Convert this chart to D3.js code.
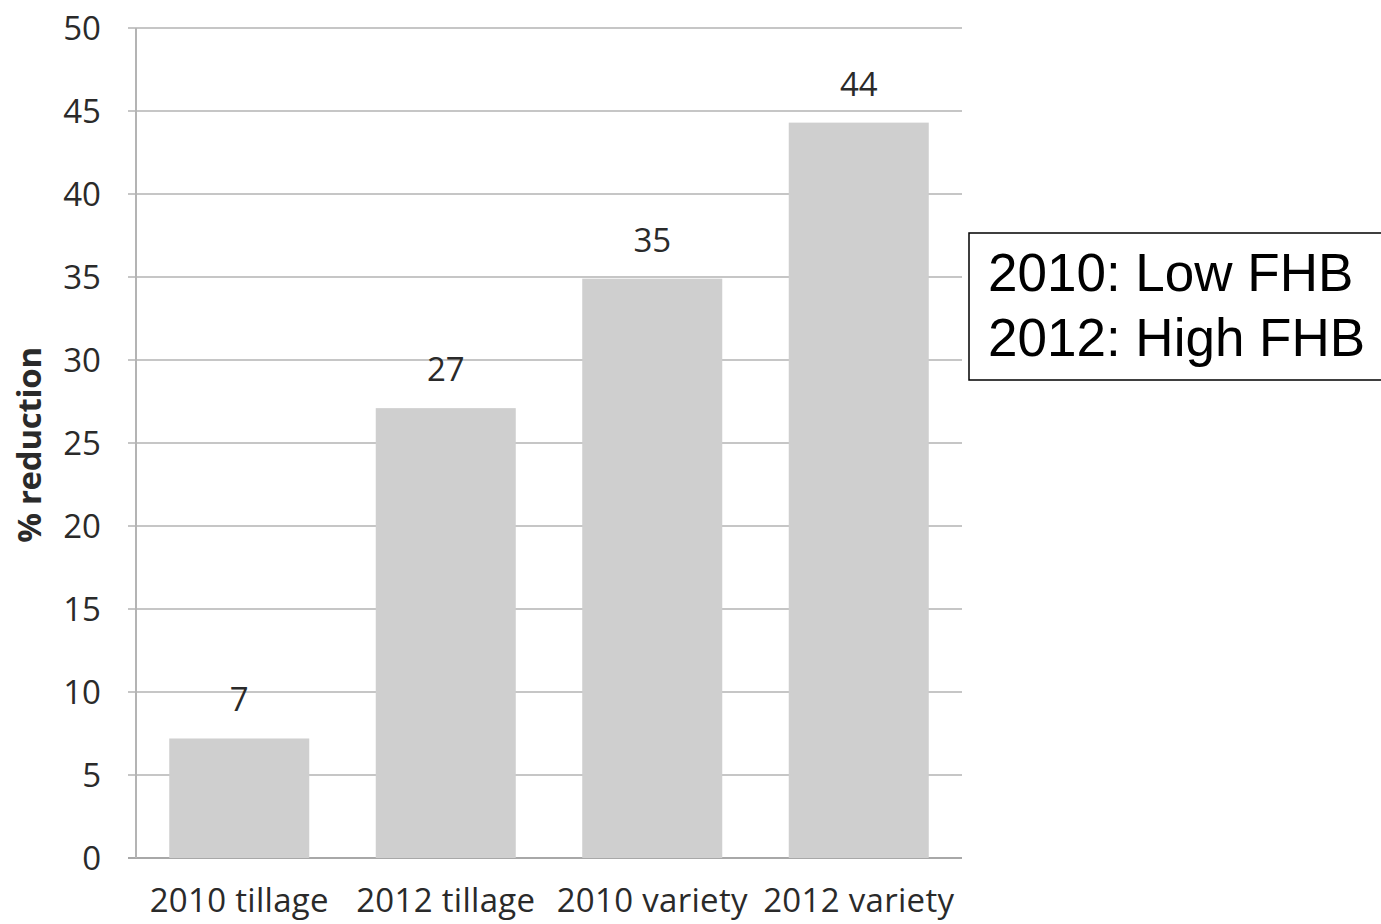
<!DOCTYPE html>
<html>
<head>
<meta charset="utf-8">
<script src="https://cdn.jsdelivr.net/npm/d3@7"></script>
<style>
  html, body { margin: 0; padding: 0; background: #ffffff; }
  svg { display: block; }
</style>
</head>
<body>
<script>
const categories = ["2010 tillage", "2012 tillage", "2010 variety", "2012 variety"];
const values = [7.2, 27.1, 34.9, 44.3];
const valueLabels = ["7", "27", "35", "44"];
const yTicks = [0, 5, 10, 15, 20, 25, 30, 35, 40, 45, 50];
const yTitle = "% reduction";
const noteLines = ["2010: Low FHB", "2012: High FHB"];

const W = 1381, H = 924;
const plotLeft = 136, plotRight = 962, plotTop = 28, plotBottom = 858;

const svg = d3.select("body").append("svg").attr("width", W).attr("height", H);

const x = d3.scaleBand().domain(categories).range([plotLeft, plotRight]).paddingInner(0.322).paddingOuter(0.161);
const y = d3.scaleLinear().domain([0, 50]).range([plotBottom, plotTop]);

const tickFont = "'Open Sans', sans-serif";
const textColor = "#2a2a2a";

// gridlines
svg.append("g").selectAll("line").data(yTicks).join("line")
  .attr("x1", plotLeft - 8).attr("x2", plotRight)
  .attr("y1", d => y(d)).attr("y2", d => y(d))
  .attr("stroke", d => d === 0 ? "#a8a8a8" : "#c6c6c6")
  .attr("stroke-width", 2);

// y axis line
svg.append("line").attr("x1", plotLeft).attr("x2", plotLeft).attr("y1", plotTop).attr("y2", plotBottom)
  .attr("stroke", "#b4b4b4").attr("stroke-width", 2);

// bars
svg.append("g").selectAll("rect").data(values).join("rect")
  .attr("x", (d, i) => x(categories[i]))
  .attr("width", x.bandwidth())
  .attr("y", d => y(d))
  .attr("height", d => y(0) - y(d))
  .attr("fill", "#cfcfcf");

// y tick labels
svg.append("g").selectAll("text").data(yTicks).join("text")
  .attr("x", 101).attr("y", d => y(d)).attr("dy", "0.36em")
  .attr("text-anchor", "end")
  .attr("font-family", tickFont).attr("font-size", 33)
  .attr("fill", textColor)
  .text(d => d);

// x labels
svg.append("g").selectAll("text").data(categories).join("text")
  .attr("x", d => x(d) + x.bandwidth() / 2).attr("y", 912)
  .attr("text-anchor", "middle")
  .attr("font-family", tickFont).attr("font-size", 33)
  .attr("letter-spacing", "0.3px")
  .attr("fill", textColor)
  .text(d => d);

// value labels
svg.append("g").selectAll("text").data(values).join("text")
  .attr("x", (d, i) => x(categories[i]) + x.bandwidth() / 2)
  .attr("y", d => y(d) - 27)
  .attr("text-anchor", "middle")
  .attr("font-family", tickFont).attr("font-size", 33)
  .attr("fill", textColor)
  .text((d, i) => valueLabels[i]);

// y title
svg.append("text")
  .attr("transform", "translate(41,445) rotate(-90)")
  .attr("text-anchor", "middle")
  .attr("font-family", tickFont).attr("font-size", 33).attr("font-weight", "bold")
  .attr("letter-spacing", "-0.3px")
  .attr("fill", textColor)
  .text(yTitle);

// note box
svg.append("rect")
  .attr("x", 969).attr("y", 233).attr("width", 430).attr("height", 147)
  .attr("fill", "#ffffff").attr("stroke", "#000000").attr("stroke-width", 1.5);

svg.append("g").selectAll("text").data(noteLines).join("text")
  .attr("x", 988).attr("y", (d, i) => 291 + i * 65)
  .attr("font-family", "'Liberation Sans', Arial, sans-serif").attr("font-size", 53)
  .attr("fill", "#000000")
  .text(d => d);
</script>
</body>
</html>
